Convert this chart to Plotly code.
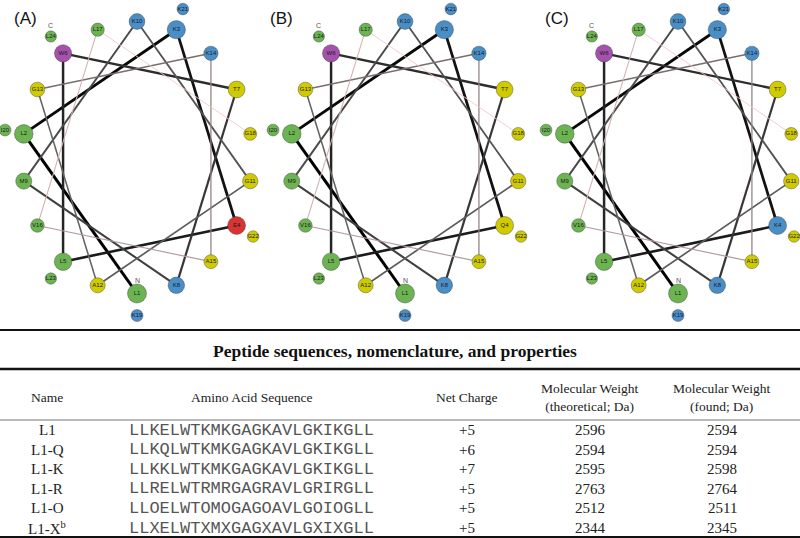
import math
import plotly.graph_objects as go

# ---------------- data ----------------
panel_labels = ["(A)", "(B)", "(C)"]
wheel_sequences = [
    "LLKELWTKMKGAGKAVLGKIKGLL",
    "LLKQLWTKMKGAGKAVLGKIKGLL",
    "LLKKLWTKMKGAGKAVLGKIKGLL",
]

table_title = "Peptide sequences, nomenclature, and properties"
col_headers = ["Name", "Amino Acid Sequence", "Net Charge",
               "Molecular Weight<br>(theoretical; Da)", "Molecular Weight<br>(found; Da)"]
names = ["L1", "L1-Q", "L1-K", "L1-R", "L1-O", "L1-X<sup>b</sup>"]
sequences = [
    "LLKELWTKMKGAGKAVLGKIKGLL",
    "LLKQLWTKMKGAGKAVLGKIKGLL",
    "LLKKLWTKMKGAGKAVLGKIKGLL",
    "LLRELWTRMRGAGRAVLGRIRGLL",
    "LLOELWTOMOGAGOAVLGOIOGLL",
    "LLXELWTXMXGAGXAVLGXIXGLL",
]
net_charge = ["+5", "+6", "+7", "+5", "+5", "+5"]
mw_theoretical = [2596, 2594, 2595, 2763, 2512, 2344]
mw_found = [2594, 2594, 2598, 2764, 2511, 2345]

# ---------------- styling ----------------
res_colors = {
    "L": "#6cb452", "I": "#6cb452", "V": "#6cb452", "M": "#6cb452",
    "K": "#4a8ec8", "R": "#4a8ec8",
    "E": "#d83434",
    "W": "#a452ac",
    "G": "#d0ca00", "A": "#d0ca00", "T": "#d0ca00", "Q": "#d0ca00",
}

W, H = 800, 538
centers_x = [137, 405, 678]
cy = 157.5
rx_in, ry_in = 115, 136
rx_out, ry_out = 134, 158

fig = go.Figure()


def pos(i, cx):
    # i is 1-based residue index; 100 degrees per residue
    th = math.radians(270 - 100 * (i - 1))
    if i <= 18:
        rx, ry = rx_in, ry_in
    else:
        rx, ry = rx_out, ry_out
    return cx + rx * math.cos(th), cy - ry * math.sin(th)


def seg_style(k):
    t = k / 16.0
    width = 3.0 - 2.1 * t
    if t < 0.75:
        g = int(0 + 110 * t / 0.75)
        col = f"rgb({g},{g},{g})"
    else:
        u = (t - 0.75) / 0.25
        r = int(120 + 120 * u)
        gb = int(110 + 90 * u)
        col = f"rgb({r},{gb},{gb})"
    return width, col


for p, seq in enumerate(wheel_sequences):
    cx = centers_x[p]
    for k in range(17):
        x0, y0 = pos(k + 1, cx)
        x1, y1 = pos(k + 2, cx)
        w, c = seg_style(k)
        fig.add_trace(go.Scatter(x=[x0, x1], y=[y0, y1], mode="lines",
                                 line=dict(color=c, width=w),
                                 hoverinfo="skip", showlegend=False))
    xs, ys, cols, sizes, texts = [], [], [], [], []
    for i, aa in enumerate(seq, start=1):
        x, y = pos(i, cx)
        xs.append(x)
        ys.append(y)
        cols.append(res_colors[aa])
        if i <= 18:
            sizes.append(19 - 0.36 * (i - 1))
        else:
            sizes.append(12 - 0.15 * (i - 19))
        texts.append(f"{aa}{i}")
    fig.add_trace(go.Scatter(
        x=xs, y=ys, mode="markers+text", text=texts,
        textposition="middle center",
        textfont=dict(size=6, color="#1a1a1a", family="Liberation Sans"),
        marker=dict(size=sizes, color=cols, opacity=1,
                    line=dict(width=0.7, color="rgba(60,60,60,0.6)")),
        hoverinfo="skip", showlegend=False))
    xn, yn = pos(1, cx)
    xc, yc = pos(len(seq), cx)
    fig.add_annotation(x=xn, y=yn - 13, text="N", showarrow=False,
                       font=dict(size=7, color="#555555", family="Liberation Sans"))
    fig.add_annotation(x=xc, y=yc - 11, text="C", showarrow=False,
                       font=dict(size=7, color="#555555", family="Liberation Sans"))

for lab, lx in zip(panel_labels, [25, 281, 557]):
    fig.add_annotation(x=lx, y=18, text=lab, showarrow=False,
                       font=dict(size=17, color="#111", family="Liberation Sans"))

# ---------------- table ----------------
serif = "Liberation Serif"
mono = "Liberation Mono"
col_x = [47, 251, 467, 590, 722]

fig.add_annotation(x=395, y=351, text=f"<b>{table_title}</b>", showarrow=False,
                   font=dict(size=17.5, color="#111", family=serif))
for hx, htxt in zip(col_x, col_headers):
    fig.add_annotation(x=hx, y=397, text=htxt, showarrow=False,
                       font=dict(size=13.5, color="#222", family=serif))

row_y0, row_dy = 430, 19.6
for r in range(len(names)):
    y = row_y0 + r * row_dy
    vals = [names[r], sequences[r], net_charge[r], str(mw_theoretical[r]), str(mw_found[r])]
    for ci, (hx, v) in enumerate(zip(col_x, vals)):
        fam = mono if ci == 1 else serif
        size = 17 if ci == 1 else 15
        col = "#555" if ci == 1 else "#222"
        fig.add_annotation(x=hx, y=y, text=v, showarrow=False,
                           font=dict(size=size, color=col, family=fam))

shapes = [
    dict(type="line", x0=0, x1=W, y0=330, y1=330, line=dict(color="#111", width=2)),
    dict(type="line", x0=0, x1=W, y0=369, y1=369, line=dict(color="#111", width=2.5)),
    dict(type="line", x0=0, x1=W, y0=420, y1=420, line=dict(color="#777", width=1.2)),
    dict(type="line", x0=0, x1=W, y0=537, y1=537, line=dict(color="#111", width=2)),
]

fig.update_layout(
    width=W, height=H, margin=dict(l=0, r=0, t=0, b=0),
    paper_bgcolor="white", plot_bgcolor="white",
    xaxis=dict(range=[0, W], visible=False, fixedrange=True),
    yaxis=dict(range=[H, 0], visible=False, fixedrange=True),
    shapes=shapes, showlegend=False,
)

fig.write_html("out.html", config={"displayModeBar": False},
               post_script="document.body.style.margin='0';document.body.style.padding='0';")
